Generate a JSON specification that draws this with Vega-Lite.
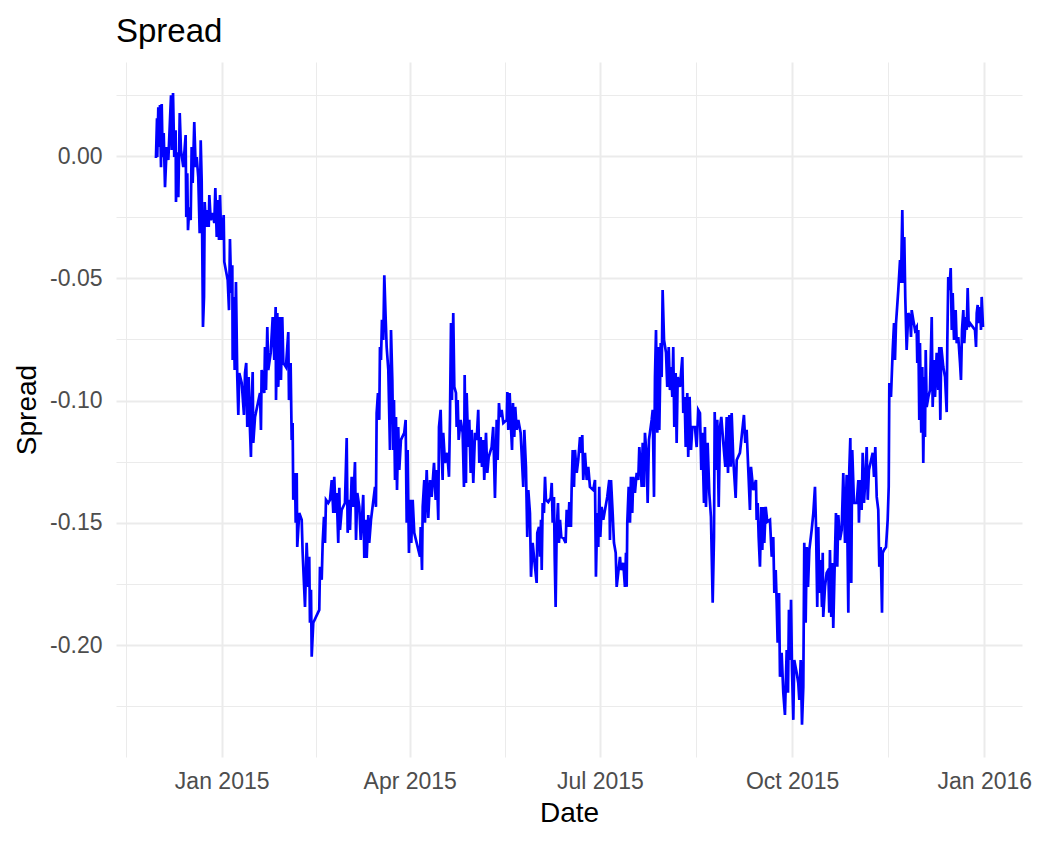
{
  "$schema": "https://vega.github.io/schema/vega-lite/v6.json",
  "width": 906,
  "height": 695,
  "autosize": {"type": "none"},
  "padding": {"left": 116, "top": 62, "right": 16, "bottom": 85},
  "background": "white",
  "title": {"text": "Spread", "anchor": "start", "frame": "group", "font": "Liberation Sans", "fontSize": 33, "fontWeight": "normal", "color": "black", "baseline": "alphabetic", "offset": -13},
  "config": {
    "view": {"stroke": null},
    "axis": {"labelFont": "Liberation Sans", "titleFont": "Liberation Sans", "labelFontSize": 23, "titleFontSize": 28, "labelColor": "#4D4D4D", "titleColor": "black", "titleFontWeight": "normal", "domain": false, "ticks": false, "tickSize": 0, "gridColor": "#EBEBEB", "labelOverlap": false, "labelFlush": false}
  },
  "data": {"values": [
{"date":"2014-11-30T13:00","spread":-0.0008},
{"date":"2014-12-01T01:00","spread":0.0155},
{"date":"2014-12-01T04:00","spread":-0.0004},
{"date":"2014-12-01T16:00","spread":0.0200},
{"date":"2014-12-02T00:00","spread":0.0037},
{"date":"2014-12-02T11:00","spread":0.0209},
{"date":"2014-12-02T23:00","spread":-0.0045},
{"date":"2014-12-03T07:00","spread":0.0213},
{"date":"2014-12-03T18:00","spread":-0.0004},
{"date":"2014-12-04T06:00","spread":0.0094},
{"date":"2014-12-04T21:00","spread":-0.0127},
{"date":"2014-12-05T16:00","spread":0.0037},
{"date":"2014-12-06T11:00","spread":-0.0016},
{"date":"2014-12-07T18:00","spread":0.0249},
{"date":"2014-12-08T02:00","spread":0.0025},
{"date":"2014-12-08T17:00","spread":0.0258},
{"date":"2014-12-09T07:00","spread":-0.0004},
{"date":"2014-12-09T23:00","spread":0.0106},
{"date":"2014-12-10T03:00","spread":-0.0188},
{"date":"2014-12-10T15:00","spread":0.0016},
{"date":"2014-12-11T06:00","spread":-0.0168},
{"date":"2014-12-11T22:00","spread":0.0176},
{"date":"2014-12-12T12:00","spread":0.0025},
{"date":"2014-12-13T15:00","spread":-0.0045},
{"date":"2014-12-14T18:00","spread":0.0086},
{"date":"2014-12-15T01:00","spread":-0.0249},
{"date":"2014-12-15T13:00","spread":-0.0070},
{"date":"2014-12-15T21:00","spread":-0.0303},
{"date":"2014-12-16T12:00","spread":-0.0209},
{"date":"2014-12-17T04:00","spread":-0.0262},
{"date":"2014-12-17T15:00","spread":0.0037},
{"date":"2014-12-18T03:00","spread":-0.0110},
{"date":"2014-12-18T21:00","spread":0.0139},
{"date":"2014-12-19T13:00","spread":-0.0045},
{"date":"2014-12-20T01:00","spread":-0.0004},
{"date":"2014-12-20T19:00","spread":-0.0086},
{"date":"2014-12-21T11:00","spread":-0.0315},
{"date":"2014-12-21T23:00","spread":0.0065},
{"date":"2014-12-22T10:00","spread":-0.0098},
{"date":"2014-12-23T01:00","spread":-0.0699},
{"date":"2014-12-23T13:00","spread":-0.0576},
{"date":"2014-12-23T21:00","spread":-0.0188},
{"date":"2014-12-24T12:00","spread":-0.0290},
{"date":"2014-12-25T03:00","spread":-0.0221},
{"date":"2014-12-25T19:00","spread":-0.0290},
{"date":"2014-12-26T02:00","spread":-0.0159},
{"date":"2014-12-26T18:00","spread":-0.0262},
{"date":"2014-12-27T17:00","spread":-0.0233},
{"date":"2014-12-28T11:00","spread":-0.0274},
{"date":"2014-12-28T23:00","spread":-0.0131},
{"date":"2014-12-29T15:00","spread":-0.0331},
{"date":"2014-12-30T06:00","spread":-0.0180},
{"date":"2014-12-30T17:00","spread":-0.0343},
{"date":"2014-12-31T05:00","spread":-0.0159},
{"date":"2014-12-31T19:00","spread":-0.0343},
{"date":"2015-01-01T23:00","spread":-0.0241},
{"date":"2015-01-02T06:00","spread":-0.0433},
{"date":"2015-01-03T21:00","spread":-0.0507},
{"date":"2015-01-04T12:00","spread":-0.0630},
{"date":"2015-01-04T23:00","spread":-0.0339},
{"date":"2015-01-05T14:00","spread":-0.0560},
{"date":"2015-01-06T02:00","spread":-0.0446},
{"date":"2015-01-06T06:00","spread":-0.0834},
{"date":"2015-01-06T18:00","spread":-0.0576},
{"date":"2015-01-07T05:00","spread":-0.0875},
{"date":"2015-01-07T20:00","spread":-0.0515},
{"date":"2015-01-08T11:00","spread":-0.0904},
{"date":"2015-01-08T23:00","spread":-0.1059},
{"date":"2015-01-09T10:00","spread":-0.0887},
{"date":"2015-01-10T14:00","spread":-0.0928},
{"date":"2015-01-11T16:00","spread":-0.1059},
{"date":"2015-01-12T04:00","spread":-0.0887},
{"date":"2015-01-12T18:00","spread":-0.0846},
{"date":"2015-01-13T06:00","spread":-0.1108},
{"date":"2015-01-13T22:00","spread":-0.0904},
{"date":"2015-01-14T13:00","spread":-0.1120},
{"date":"2015-01-15T00:00","spread":-0.1231},
{"date":"2015-01-15T09:00","spread":-0.1010},
{"date":"2015-01-15T20:00","spread":-0.0883},
{"date":"2015-01-16T03:00","spread":-0.1173},
{"date":"2015-01-16T23:00","spread":-0.1067},
{"date":"2015-01-19T08:00","spread":-0.0969},
{"date":"2015-01-19T19:00","spread":-0.1120},
{"date":"2015-01-20T03:00","spread":-0.0875},
{"date":"2015-01-20T22:00","spread":-0.0928},
{"date":"2015-01-21T09:00","spread":-0.0969},
{"date":"2015-01-21T17:00","spread":-0.0781},
{"date":"2015-01-22T05:00","spread":-0.0957},
{"date":"2015-01-22T20:00","spread":-0.0699},
{"date":"2015-01-23T07:00","spread":-0.0875},
{"date":"2015-01-24T11:00","spread":-0.0805},
{"date":"2015-01-25T10:00","spread":-0.0658},
{"date":"2015-01-26T04:00","spread":-0.0834},
{"date":"2015-01-26T20:00","spread":-0.0617},
{"date":"2015-01-27T00:00","spread":-0.0998},
{"date":"2015-01-27T15:00","spread":-0.0642},
{"date":"2015-01-28T02:00","spread":-0.0944},
{"date":"2015-01-28T22:00","spread":-0.0658},
{"date":"2015-01-29T09:00","spread":-0.0916},
{"date":"2015-01-30T00:00","spread":-0.0658},
{"date":"2015-01-30T12:00","spread":-0.0846},
{"date":"2015-01-31T18:00","spread":-0.0863},
{"date":"2015-02-01T21:00","spread":-0.0720},
{"date":"2015-02-02T05:00","spread":-0.0998},
{"date":"2015-02-03T00:00","spread":-0.0846},
{"date":"2015-02-03T12:00","spread":-0.1161},
{"date":"2015-02-03T23:00","spread":-0.1092},
{"date":"2015-02-04T06:00","spread":-0.1406},
{"date":"2015-02-05T02:00","spread":-0.1296},
{"date":"2015-02-05T10:00","spread":-0.1500},
{"date":"2015-02-05T22:00","spread":-0.1296},
{"date":"2015-02-06T04:00","spread":-0.1599},
{"date":"2015-02-07T03:00","spread":-0.1460},
{"date":"2015-02-08T07:00","spread":-0.1488},
{"date":"2015-02-08T18:00","spread":-0.1623},
{"date":"2015-02-09T21:00","spread":-0.1844},
{"date":"2015-02-10T16:00","spread":-0.1582},
{"date":"2015-02-11T11:00","spread":-0.1762},
{"date":"2015-02-11T22:00","spread":-0.1639},
{"date":"2015-02-12T06:00","spread":-0.1909},
{"date":"2015-02-12T18:00","spread":-0.1774},
{"date":"2015-02-13T02:00","spread":-0.2048},
{"date":"2015-02-13T20:00","spread":-0.1909},
{"date":"2015-02-16T17:00","spread":-0.1856},
{"date":"2015-02-17T01:00","spread":-0.1680},
{"date":"2015-02-17T21:00","spread":-0.1733},
{"date":"2015-02-18T08:00","spread":-0.1582},
{"date":"2015-02-18T23:00","spread":-0.1476},
{"date":"2015-02-19T11:00","spread":-0.1582},
{"date":"2015-02-19T22:00","spread":-0.1406},
{"date":"2015-02-21T00:00","spread":-0.1419},
{"date":"2015-02-21T20:00","spread":-0.1406},
{"date":"2015-02-22T16:00","spread":-0.1325},
{"date":"2015-02-23T10:00","spread":-0.1460},
{"date":"2015-02-23T21:00","spread":-0.1312},
{"date":"2015-02-24T13:00","spread":-0.1460},
{"date":"2015-02-25T01:00","spread":-0.1378},
{"date":"2015-02-25T19:00","spread":-0.1582},
{"date":"2015-02-26T07:00","spread":-0.1357},
{"date":"2015-02-26T15:00","spread":-0.1529},
{"date":"2015-02-27T10:00","spread":-0.1447},
{"date":"2015-03-01T00:00","spread":-0.1419},
{"date":"2015-03-01T20:00","spread":-0.1153},
{"date":"2015-03-02T07:00","spread":-0.1541},
{"date":"2015-03-02T22:00","spread":-0.1406},
{"date":"2015-03-03T10:00","spread":-0.1529},
{"date":"2015-03-04T05:00","spread":-0.1312},
{"date":"2015-03-04T23:00","spread":-0.1435},
{"date":"2015-03-05T19:00","spread":-0.1251},
{"date":"2015-03-06T07:00","spread":-0.1570},
{"date":"2015-03-06T22:00","spread":-0.1378},
{"date":"2015-03-07T21:00","spread":-0.1435},
{"date":"2015-03-08T13:00","spread":-0.1570},
{"date":"2015-03-09T07:00","spread":-0.1460},
{"date":"2015-03-09T18:00","spread":-0.1386},
{"date":"2015-03-10T06:00","spread":-0.1644},
{"date":"2015-03-11T01:00","spread":-0.1488},
{"date":"2015-03-11T10:00","spread":-0.1644},
{"date":"2015-03-12T04:00","spread":-0.1468},
{"date":"2015-03-12T15:00","spread":-0.1582},
{"date":"2015-03-13T11:00","spread":-0.1488},
{"date":"2015-03-15T09:00","spread":-0.1353},
{"date":"2015-03-15T20:00","spread":-0.1435},
{"date":"2015-03-16T04:00","spread":-0.1051},
{"date":"2015-03-16T19:00","spread":-0.0969},
{"date":"2015-03-17T10:00","spread":-0.1079},
{"date":"2015-03-17T18:00","spread":-0.0781},
{"date":"2015-03-18T06:00","spread":-0.0834},
{"date":"2015-03-18T17:00","spread":-0.0670},
{"date":"2015-03-19T08:00","spread":-0.0752},
{"date":"2015-03-19T20:00","spread":-0.0487},
{"date":"2015-03-20T12:00","spread":-0.0670},
{"date":"2015-03-20T23:00","spread":-0.0781},
{"date":"2015-03-21T18:00","spread":-0.0875},
{"date":"2015-03-22T13:00","spread":-0.1202},
{"date":"2015-03-23T01:00","spread":-0.0711},
{"date":"2015-03-23T16:00","spread":-0.0916},
{"date":"2015-03-24T03:00","spread":-0.1202},
{"date":"2015-03-24T11:00","spread":-0.0998},
{"date":"2015-03-24T23:00","spread":-0.1325},
{"date":"2015-03-25T10:00","spread":-0.1067},
{"date":"2015-03-25T22:00","spread":-0.1366},
{"date":"2015-03-26T12:00","spread":-0.1108},
{"date":"2015-03-27T00:00","spread":-0.1284},
{"date":"2015-03-27T19:00","spread":-0.1161},
{"date":"2015-03-29T09:00","spread":-0.1132},
{"date":"2015-03-30T01:00","spread":-0.1079},
{"date":"2015-03-30T13:00","spread":-0.1500},
{"date":"2015-03-31T00:00","spread":-0.1202},
{"date":"2015-03-31T15:00","spread":-0.1623},
{"date":"2015-04-01T03:00","spread":-0.1406},
{"date":"2015-04-01T18:00","spread":-0.1582},
{"date":"2015-04-02T10:00","spread":-0.1406},
{"date":"2015-04-03T04:00","spread":-0.1541},
{"date":"2015-04-05T22:00","spread":-0.1639},
{"date":"2015-04-06T06:00","spread":-0.1517},
{"date":"2015-04-06T21:00","spread":-0.1693},
{"date":"2015-04-07T05:00","spread":-0.1435},
{"date":"2015-04-07T23:00","spread":-0.1325},
{"date":"2015-04-08T07:00","spread":-0.1500},
{"date":"2015-04-09T03:00","spread":-0.1284},
{"date":"2015-04-09T21:00","spread":-0.1480},
{"date":"2015-04-10T17:00","spread":-0.1325},
{"date":"2015-04-11T12:00","spread":-0.1394},
{"date":"2015-04-12T15:00","spread":-0.1255},
{"date":"2015-04-13T10:00","spread":-0.1406},
{"date":"2015-04-13T22:00","spread":-0.1284},
{"date":"2015-04-14T16:00","spread":-0.1488},
{"date":"2015-04-15T00:00","spread":-0.1108},
{"date":"2015-04-15T19:00","spread":-0.1038},
{"date":"2015-04-16T07:00","spread":-0.1214},
{"date":"2015-04-16T18:00","spread":-0.1325},
{"date":"2015-04-17T01:00","spread":-0.1132},
{"date":"2015-04-17T21:00","spread":-0.1255},
{"date":"2015-04-18T23:00","spread":-0.1214},
{"date":"2015-04-19T19:00","spread":-0.1312},
{"date":"2015-04-20T06:00","spread":-0.1079},
{"date":"2015-04-20T18:00","spread":-0.0683},
{"date":"2015-04-21T05:00","spread":-0.0998},
{"date":"2015-04-21T20:00","spread":-0.0642},
{"date":"2015-04-22T08:00","spread":-0.0944},
{"date":"2015-04-23T03:00","spread":-0.0969},
{"date":"2015-04-23T11:00","spread":-0.1108},
{"date":"2015-04-23T23:00","spread":-0.0998},
{"date":"2015-04-24T10:00","spread":-0.1161},
{"date":"2015-04-25T09:00","spread":-0.1079},
{"date":"2015-04-26T08:00","spread":-0.1132},
{"date":"2015-04-26T23:00","spread":-0.1353},
{"date":"2015-04-27T07:00","spread":-0.0895},
{"date":"2015-04-27T22:00","spread":-0.1337},
{"date":"2015-04-28T06:00","spread":-0.0969},
{"date":"2015-04-29T00:00","spread":-0.1190},
{"date":"2015-04-29T12:00","spread":-0.1079},
{"date":"2015-04-30T04:00","spread":-0.1296},
{"date":"2015-04-30T16:00","spread":-0.1120},
{"date":"2015-05-01T10:00","spread":-0.1337},
{"date":"2015-05-02T06:00","spread":-0.1132},
{"date":"2015-05-03T01:00","spread":-0.1161},
{"date":"2015-05-03T19:00","spread":-0.1038},
{"date":"2015-05-04T07:00","spread":-0.1255},
{"date":"2015-05-04T23:00","spread":-0.1149},
{"date":"2015-05-05T14:00","spread":-0.1271},
{"date":"2015-05-06T05:00","spread":-0.1161},
{"date":"2015-05-06T16:00","spread":-0.1325},
{"date":"2015-05-07T12:00","spread":-0.1132},
{"date":"2015-05-08T03:00","spread":-0.1296},
{"date":"2015-05-08T19:00","spread":-0.1231},
{"date":"2015-05-10T05:00","spread":-0.1190},
{"date":"2015-05-10T23:00","spread":-0.1108},
{"date":"2015-05-11T19:00","spread":-0.1398},
{"date":"2015-05-12T15:00","spread":-0.1079},
{"date":"2015-05-13T02:00","spread":-0.1243},
{"date":"2015-05-13T17:00","spread":-0.1010},
{"date":"2015-05-14T05:00","spread":-0.1067},
{"date":"2015-05-15T00:00","spread":-0.1038},
{"date":"2015-05-15T19:00","spread":-0.1092},
{"date":"2015-05-17T10:00","spread":-0.1079},
{"date":"2015-05-17T17:00","spread":-0.0965},
{"date":"2015-05-18T04:00","spread":-0.1120},
{"date":"2015-05-18T20:00","spread":-0.0969},
{"date":"2015-05-19T11:00","spread":-0.1108},
{"date":"2015-05-19T23:00","spread":-0.1202},
{"date":"2015-05-20T10:00","spread":-0.1010},
{"date":"2015-05-21T01:00","spread":-0.1149},
{"date":"2015-05-21T12:00","spread":-0.1026},
{"date":"2015-05-22T05:00","spread":-0.1120},
{"date":"2015-05-22T23:00","spread":-0.1079},
{"date":"2015-05-24T02:00","spread":-0.1132},
{"date":"2015-05-25T08:00","spread":-0.1353},
{"date":"2015-05-25T20:00","spread":-0.1120},
{"date":"2015-05-26T15:00","spread":-0.1271},
{"date":"2015-05-27T06:00","spread":-0.1558},
{"date":"2015-05-27T18:00","spread":-0.1366},
{"date":"2015-05-28T13:00","spread":-0.1460},
{"date":"2015-05-29T01:00","spread":-0.1721},
{"date":"2015-05-29T20:00","spread":-0.1582},
{"date":"2015-05-30T23:00","spread":-0.1680},
{"date":"2015-05-31T18:00","spread":-0.1746},
{"date":"2015-06-01T01:00","spread":-0.1541},
{"date":"2015-06-01T21:00","spread":-0.1517},
{"date":"2015-06-02T08:00","spread":-0.1639},
{"date":"2015-06-02T20:00","spread":-0.1488},
{"date":"2015-06-03T04:00","spread":-0.1693},
{"date":"2015-06-03T15:00","spread":-0.1419},
{"date":"2015-06-04T06:00","spread":-0.1460},
{"date":"2015-06-04T18:00","spread":-0.1312},
{"date":"2015-06-05T05:00","spread":-0.1406},
{"date":"2015-06-06T07:00","spread":-0.1415},
{"date":"2015-06-07T11:00","spread":-0.1398},
{"date":"2015-06-07T23:00","spread":-0.1337},
{"date":"2015-06-08T10:00","spread":-0.1500},
{"date":"2015-06-09T01:00","spread":-0.1394},
{"date":"2015-06-09T09:00","spread":-0.1639},
{"date":"2015-06-09T20:00","spread":-0.1844},
{"date":"2015-06-10T08:00","spread":-0.1529},
{"date":"2015-06-10T23:00","spread":-0.1419},
{"date":"2015-06-11T10:00","spread":-0.1582},
{"date":"2015-06-11T22:00","spread":-0.1488},
{"date":"2015-06-12T13:00","spread":-0.1558},
{"date":"2015-06-13T12:00","spread":-0.1562},
{"date":"2015-06-14T15:00","spread":-0.1582},
{"date":"2015-06-15T03:00","spread":-0.1447},
{"date":"2015-06-15T21:00","spread":-0.1517},
{"date":"2015-06-16T09:00","spread":-0.1415},
{"date":"2015-06-17T04:00","spread":-0.1517},
{"date":"2015-06-17T12:00","spread":-0.1353},
{"date":"2015-06-18T00:00","spread":-0.1202},
{"date":"2015-06-18T15:00","spread":-0.1353},
{"date":"2015-06-19T02:00","spread":-0.1202},
{"date":"2015-06-19T22:00","spread":-0.1296},
{"date":"2015-06-20T16:00","spread":-0.1243},
{"date":"2015-06-21T12:00","spread":-0.1149},
{"date":"2015-06-21T23:00","spread":-0.1214},
{"date":"2015-06-22T14:00","spread":-0.1141},
{"date":"2015-06-23T01:00","spread":-0.1325},
{"date":"2015-06-23T21:00","spread":-0.1214},
{"date":"2015-06-24T17:00","spread":-0.1325},
{"date":"2015-06-25T11:00","spread":-0.1271},
{"date":"2015-06-26T06:00","spread":-0.1353},
{"date":"2015-06-27T20:00","spread":-0.1366},
{"date":"2015-06-28T16:00","spread":-0.1325},
{"date":"2015-06-29T03:00","spread":-0.1721},
{"date":"2015-06-29T18:00","spread":-0.1460},
{"date":"2015-06-30T06:00","spread":-0.1599},
{"date":"2015-06-30T17:00","spread":-0.1353},
{"date":"2015-07-01T05:00","spread":-0.1558},
{"date":"2015-07-01T21:00","spread":-0.1435},
{"date":"2015-07-02T15:00","spread":-0.1488},
{"date":"2015-07-04T13:00","spread":-0.1394},
{"date":"2015-07-05T12:00","spread":-0.1325},
{"date":"2015-07-05T20:00","spread":-0.1570},
{"date":"2015-07-06T08:00","spread":-0.1325},
{"date":"2015-07-07T03:00","spread":-0.1460},
{"date":"2015-07-07T18:00","spread":-0.1582},
{"date":"2015-07-08T14:00","spread":-0.1623},
{"date":"2015-07-09T01:00","spread":-0.1762},
{"date":"2015-07-09T19:00","spread":-0.1705},
{"date":"2015-07-10T15:00","spread":-0.1639},
{"date":"2015-07-11T03:00","spread":-0.1693},
{"date":"2015-07-12T05:00","spread":-0.1664},
{"date":"2015-07-13T00:00","spread":-0.1762},
{"date":"2015-07-13T12:00","spread":-0.1623},
{"date":"2015-07-13T20:00","spread":-0.1762},
{"date":"2015-07-14T03:00","spread":-0.1500},
{"date":"2015-07-14T19:00","spread":-0.1353},
{"date":"2015-07-15T10:00","spread":-0.1500},
{"date":"2015-07-15T21:00","spread":-0.1312},
{"date":"2015-07-16T12:00","spread":-0.1460},
{"date":"2015-07-17T00:00","spread":-0.1312},
{"date":"2015-07-17T19:00","spread":-0.1378},
{"date":"2015-07-18T15:00","spread":-0.1296},
{"date":"2015-07-19T09:00","spread":-0.1325},
{"date":"2015-07-19T21:00","spread":-0.1190},
{"date":"2015-07-20T13:00","spread":-0.1271},
{"date":"2015-07-21T00:00","spread":-0.1353},
{"date":"2015-07-21T12:00","spread":-0.1173},
{"date":"2015-07-22T03:00","spread":-0.1353},
{"date":"2015-07-22T14:00","spread":-0.1132},
{"date":"2015-07-23T10:00","spread":-0.1231},
{"date":"2015-07-23T21:00","spread":-0.1419},
{"date":"2015-07-24T12:00","spread":-0.1161},
{"date":"2015-07-25T19:00","spread":-0.1079},
{"date":"2015-07-26T07:00","spread":-0.1038},
{"date":"2015-07-26T22:00","spread":-0.1394},
{"date":"2015-07-27T09:00","spread":-0.0904},
{"date":"2015-07-27T21:00","spread":-0.0711},
{"date":"2015-07-28T12:00","spread":-0.1132},
{"date":"2015-07-28T23:00","spread":-0.0781},
{"date":"2015-07-29T11:00","spread":-0.1120},
{"date":"2015-07-30T03:00","spread":-0.0765},
{"date":"2015-07-30T14:00","spread":-0.0904},
{"date":"2015-07-31T01:00","spread":-0.0548},
{"date":"2015-07-31T17:00","spread":-0.0752},
{"date":"2015-08-01T16:00","spread":-0.0805},
{"date":"2015-08-02T06:00","spread":-0.0944},
{"date":"2015-08-02T23:00","spread":-0.0781},
{"date":"2015-08-03T13:00","spread":-0.0957},
{"date":"2015-08-04T01:00","spread":-0.0863},
{"date":"2015-08-04T16:00","spread":-0.0985},
{"date":"2015-08-05T03:00","spread":-0.0781},
{"date":"2015-08-05T15:00","spread":-0.1108},
{"date":"2015-08-06T07:00","spread":-0.0887},
{"date":"2015-08-06T18:00","spread":-0.1173},
{"date":"2015-08-07T06:00","spread":-0.0904},
{"date":"2015-08-08T08:00","spread":-0.0944},
{"date":"2015-08-09T11:00","spread":-0.0822},
{"date":"2015-08-09T22:00","spread":-0.1051},
{"date":"2015-08-10T14:00","spread":-0.0985},
{"date":"2015-08-11T02:00","spread":-0.1190},
{"date":"2015-08-11T20:00","spread":-0.0969},
{"date":"2015-08-12T07:00","spread":-0.1231},
{"date":"2015-08-12T23:00","spread":-0.0985},
{"date":"2015-08-13T15:00","spread":-0.1202},
{"date":"2015-08-14T06:00","spread":-0.1108},
{"date":"2015-08-15T12:00","spread":-0.1108},
{"date":"2015-08-16T08:00","spread":-0.1190},
{"date":"2015-08-17T02:00","spread":-0.1038},
{"date":"2015-08-17T22:00","spread":-0.1051},
{"date":"2015-08-18T13:00","spread":-0.1284},
{"date":"2015-08-19T00:00","spread":-0.1132},
{"date":"2015-08-19T20:00","spread":-0.1419},
{"date":"2015-08-20T07:00","spread":-0.1108},
{"date":"2015-08-20T19:00","spread":-0.1435},
{"date":"2015-08-21T14:00","spread":-0.1173},
{"date":"2015-08-22T09:00","spread":-0.1378},
{"date":"2015-08-23T04:00","spread":-0.1476},
{"date":"2015-08-24T00:00","spread":-0.1827},
{"date":"2015-08-24T15:00","spread":-0.1558},
{"date":"2015-08-24T23:00","spread":-0.1047},
{"date":"2015-08-25T14:00","spread":-0.1284},
{"date":"2015-08-26T05:00","spread":-0.1079},
{"date":"2015-08-26T21:00","spread":-0.1435},
{"date":"2015-08-27T12:00","spread":-0.1108},
{"date":"2015-08-28T03:00","spread":-0.1067},
{"date":"2015-08-29T02:00","spread":-0.1173},
{"date":"2015-08-30T01:00","spread":-0.1271},
{"date":"2015-08-30T17:00","spread":-0.1067},
{"date":"2015-08-31T08:00","spread":-0.1296},
{"date":"2015-08-31T23:00","spread":-0.1059},
{"date":"2015-09-01T15:00","spread":-0.1271},
{"date":"2015-09-02T02:00","spread":-0.1051},
{"date":"2015-09-02T21:00","spread":-0.1243},
{"date":"2015-09-04T00:00","spread":-0.1398},
{"date":"2015-09-04T12:00","spread":-0.1243},
{"date":"2015-09-06T01:00","spread":-0.1214},
{"date":"2015-09-07T23:00","spread":-0.1059},
{"date":"2015-09-08T14:00","spread":-0.1173},
{"date":"2015-09-09T06:00","spread":-0.1120},
{"date":"2015-09-10T01:00","spread":-0.1284},
{"date":"2015-09-10T20:00","spread":-0.1447},
{"date":"2015-09-11T08:00","spread":-0.1271},
{"date":"2015-09-12T10:00","spread":-0.1366},
{"date":"2015-09-13T17:00","spread":-0.1325},
{"date":"2015-09-14T01:00","spread":-0.1488},
{"date":"2015-09-14T13:00","spread":-0.1419},
{"date":"2015-09-15T00:00","spread":-0.1558},
{"date":"2015-09-15T15:00","spread":-0.1680},
{"date":"2015-09-16T06:00","spread":-0.1435},
{"date":"2015-09-16T18:00","spread":-0.1611},
{"date":"2015-09-17T05:00","spread":-0.1435},
{"date":"2015-09-17T17:00","spread":-0.1582},
{"date":"2015-09-18T09:00","spread":-0.1435},
{"date":"2015-09-19T03:00","spread":-0.1496},
{"date":"2015-09-20T10:00","spread":-0.1488},
{"date":"2015-09-21T06:00","spread":-0.1639},
{"date":"2015-09-22T00:00","spread":-0.1558},
{"date":"2015-09-22T12:00","spread":-0.1787},
{"date":"2015-09-23T04:00","spread":-0.1693},
{"date":"2015-09-23T15:00","spread":-0.1827},
{"date":"2015-09-24T02:00","spread":-0.1991},
{"date":"2015-09-24T18:00","spread":-0.1787},
{"date":"2015-09-25T05:00","spread":-0.2130},
{"date":"2015-09-26T00:00","spread":-0.2032},
{"date":"2015-09-26T19:00","spread":-0.2195},
{"date":"2015-09-27T14:00","spread":-0.2286},
{"date":"2015-09-28T10:00","spread":-0.2020},
{"date":"2015-09-29T01:00","spread":-0.2195},
{"date":"2015-09-29T12:00","spread":-0.1856},
{"date":"2015-09-30T00:00","spread":-0.2061},
{"date":"2015-09-30T12:00","spread":-0.1815},
{"date":"2015-09-30T23:00","spread":-0.2101},
{"date":"2015-10-01T14:00","spread":-0.2306},
{"date":"2015-10-02T01:00","spread":-0.2061},
{"date":"2015-10-03T05:00","spread":-0.2114},
{"date":"2015-10-03T23:00","spread":-0.2155},
{"date":"2015-10-04T11:00","spread":-0.2224},
{"date":"2015-10-05T03:00","spread":-0.2061},
{"date":"2015-10-05T18:00","spread":-0.2326},
{"date":"2015-10-06T09:00","spread":-0.2171},
{"date":"2015-10-06T20:00","spread":-0.1582},
{"date":"2015-10-07T12:00","spread":-0.1909},
{"date":"2015-10-08T00:00","spread":-0.1599},
{"date":"2015-10-08T15:00","spread":-0.1762},
{"date":"2015-10-09T06:00","spread":-0.1611},
{"date":"2015-10-10T09:00","spread":-0.1529},
{"date":"2015-10-11T04:00","spread":-0.1460},
{"date":"2015-10-11T23:00","spread":-0.1353},
{"date":"2015-10-12T11:00","spread":-0.1517},
{"date":"2015-10-13T01:00","spread":-0.1844},
{"date":"2015-10-13T13:00","spread":-0.1517},
{"date":"2015-10-14T00:00","spread":-0.1787},
{"date":"2015-10-14T17:00","spread":-0.1652},
{"date":"2015-10-15T07:00","spread":-0.1844},
{"date":"2015-10-15T16:00","spread":-0.1623},
{"date":"2015-10-15T22:00","spread":-0.1885},
{"date":"2015-10-16T18:00","spread":-0.1762},
{"date":"2015-10-17T13:00","spread":-0.1705},
{"date":"2015-10-18T08:00","spread":-0.1693},
{"date":"2015-10-18T19:00","spread":-0.1868},
{"date":"2015-10-19T03:00","spread":-0.1611},
{"date":"2015-10-19T18:00","spread":-0.1885},
{"date":"2015-10-20T06:00","spread":-0.1664},
{"date":"2015-10-20T17:00","spread":-0.1930},
{"date":"2015-10-21T09:00","spread":-0.1680},
{"date":"2015-10-22T00:00","spread":-0.1460},
{"date":"2015-10-22T15:00","spread":-0.1680},
{"date":"2015-10-23T03:00","spread":-0.1468},
{"date":"2015-10-23T22:00","spread":-0.1570},
{"date":"2015-10-24T18:00","spread":-0.1529},
{"date":"2015-10-25T12:00","spread":-0.1296},
{"date":"2015-10-26T08:00","spread":-0.1582},
{"date":"2015-10-27T03:00","spread":-0.1304},
{"date":"2015-10-27T22:00","spread":-0.1868},
{"date":"2015-10-28T09:00","spread":-0.1284},
{"date":"2015-10-28T21:00","spread":-0.1153},
{"date":"2015-10-29T08:00","spread":-0.1746},
{"date":"2015-10-29T19:00","spread":-0.1202},
{"date":"2015-10-30T15:00","spread":-0.1419},
{"date":"2015-10-31T22:00","spread":-0.1419},
{"date":"2015-11-01T17:00","spread":-0.1325},
{"date":"2015-11-02T00:00","spread":-0.1500},
{"date":"2015-11-02T12:00","spread":-0.1325},
{"date":"2015-11-03T07:00","spread":-0.1447},
{"date":"2015-11-03T19:00","spread":-0.1214},
{"date":"2015-11-04T10:00","spread":-0.1419},
{"date":"2015-11-05T01:00","spread":-0.1325},
{"date":"2015-11-05T17:00","spread":-0.1190},
{"date":"2015-11-06T05:00","spread":-0.1406},
{"date":"2015-11-06T19:00","spread":-0.1284},
{"date":"2015-11-08T14:00","spread":-0.1214},
{"date":"2015-11-09T05:00","spread":-0.1312},
{"date":"2015-11-09T20:00","spread":-0.1190},
{"date":"2015-11-10T12:00","spread":-0.1394},
{"date":"2015-11-11T06:00","spread":-0.1447},
{"date":"2015-11-11T18:00","spread":-0.1680},
{"date":"2015-11-12T10:00","spread":-0.1599},
{"date":"2015-11-13T01:00","spread":-0.1868},
{"date":"2015-11-13T09:00","spread":-0.1623},
{"date":"2015-11-14T00:00","spread":-0.1611},
{"date":"2015-11-14T23:00","spread":-0.1599},
{"date":"2015-11-15T18:00","spread":-0.1488},
{"date":"2015-11-16T06:00","spread":-0.1353},
{"date":"2015-11-16T13:00","spread":-0.0928},
{"date":"2015-11-17T08:00","spread":-0.0985},
{"date":"2015-11-18T04:00","spread":-0.0793},
{"date":"2015-11-18T19:00","spread":-0.0683},
{"date":"2015-11-19T06:00","spread":-0.0834},
{"date":"2015-11-19T18:00","spread":-0.0683},
{"date":"2015-11-20T20:00","spread":-0.0548},
{"date":"2015-11-21T16:00","spread":-0.0425},
{"date":"2015-11-22T03:00","spread":-0.0519},
{"date":"2015-11-22T18:00","spread":-0.0221},
{"date":"2015-11-23T06:00","spread":-0.0519},
{"date":"2015-11-23T17:00","spread":-0.0331},
{"date":"2015-11-24T04:00","spread":-0.0576},
{"date":"2015-11-24T20:00","spread":-0.0793},
{"date":"2015-11-25T15:00","spread":-0.0642},
{"date":"2015-11-26T10:00","spread":-0.0658},
{"date":"2015-11-26T22:00","spread":-0.0740},
{"date":"2015-11-27T06:00","spread":-0.0630},
{"date":"2015-11-28T00:00","spread":-0.0670},
{"date":"2015-11-28T20:00","spread":-0.0711},
{"date":"2015-11-29T15:00","spread":-0.0699},
{"date":"2015-11-29T22:00","spread":-0.0846},
{"date":"2015-11-30T10:00","spread":-0.0711},
{"date":"2015-11-30T21:00","spread":-0.1079},
{"date":"2015-12-01T05:00","spread":-0.0765},
{"date":"2015-12-01T20:00","spread":-0.1132},
{"date":"2015-12-02T08:00","spread":-0.0863},
{"date":"2015-12-02T19:00","spread":-0.1255},
{"date":"2015-12-03T07:00","spread":-0.0904},
{"date":"2015-12-03T15:00","spread":-0.1149},
{"date":"2015-12-03T23:00","spread":-0.0793},
{"date":"2015-12-04T10:00","spread":-0.1026},
{"date":"2015-12-05T05:00","spread":-0.0985},
{"date":"2015-12-06T00:00","spread":-0.0957},
{"date":"2015-12-06T20:00","spread":-0.0658},
{"date":"2015-12-07T07:00","spread":-0.1026},
{"date":"2015-12-07T22:00","spread":-0.0834},
{"date":"2015-12-08T10:00","spread":-0.0985},
{"date":"2015-12-09T05:00","spread":-0.0805},
{"date":"2015-12-09T23:00","spread":-0.0957},
{"date":"2015-12-10T11:00","spread":-0.0781},
{"date":"2015-12-10T23:00","spread":-0.1079},
{"date":"2015-12-11T10:00","spread":-0.0781},
{"date":"2015-12-12T09:00","spread":-0.0863},
{"date":"2015-12-13T05:00","spread":-0.0904},
{"date":"2015-12-14T00:00","spread":-0.1047},
{"date":"2015-12-14T07:00","spread":-0.0765},
{"date":"2015-12-14T18:00","spread":-0.0495},
{"date":"2015-12-15T06:00","spread":-0.0548},
{"date":"2015-12-15T22:00","spread":-0.0458},
{"date":"2015-12-16T10:00","spread":-0.0711},
{"date":"2015-12-16T21:00","spread":-0.0560},
{"date":"2015-12-17T12:00","spread":-0.0752},
{"date":"2015-12-18T07:00","spread":-0.0630},
{"date":"2015-12-18T19:00","spread":-0.0765},
{"date":"2015-12-19T13:00","spread":-0.0740},
{"date":"2015-12-20T09:00","spread":-0.0846},
{"date":"2015-12-20T20:00","spread":-0.0916},
{"date":"2015-12-21T08:00","spread":-0.0711},
{"date":"2015-12-21T23:00","spread":-0.0630},
{"date":"2015-12-22T10:00","spread":-0.0765},
{"date":"2015-12-23T02:00","spread":-0.0658},
{"date":"2015-12-23T14:00","spread":-0.0711},
{"date":"2015-12-24T01:00","spread":-0.0540},
{"date":"2015-12-24T13:00","spread":-0.0699},
{"date":"2015-12-25T04:00","spread":-0.0683},
{"date":"2015-12-27T13:00","spread":-0.0711},
{"date":"2015-12-28T01:00","spread":-0.0781},
{"date":"2015-12-28T09:00","spread":-0.0642},
{"date":"2015-12-28T20:00","spread":-0.0609},
{"date":"2015-12-29T08:00","spread":-0.0683},
{"date":"2015-12-29T23:00","spread":-0.0617},
{"date":"2015-12-30T10:00","spread":-0.0711},
{"date":"2015-12-30T18:00","spread":-0.0576},
{"date":"2015-12-31T09:00","spread":-0.0699}
  ]},
  "mark": {"type": "line", "color": "#0000FF", "strokeWidth": 2.7, "clip": true},
  "encoding": {
    "x": {
      "field": "date", "type": "temporal", "title": "Date",
      "scale": {"domain": [{"year": 2014, "month": 11, "date": 11, "hours": 10}, {"year": 2016, "month": 1, "date": 19, "hours": 1}]},
      "axis": {
        "values": [
          {"year": 2014, "month": 11, "date": 16},
          {"year": 2015, "month": 1, "date": 1},
          {"year": 2015, "month": 2, "date": 15},
          {"year": 2015, "month": 4, "date": 1},
          {"year": 2015, "month": 5, "date": 16, "hours": 12},
          {"year": 2015, "month": 7, "date": 1},
          {"year": 2015, "month": 8, "date": 16},
          {"year": 2015, "month": 10, "date": 1},
          {"year": 2015, "month": 11, "date": 16},
          {"year": 2016, "month": 1, "date": 1}
        ],
        "labelExpr": "date(datum.value) == 1 ? timeFormat(datum.value, '%b %Y') : ''",
        "gridWidth": {"condition": {"test": "date(datum.value) != 1", "value": 1}, "value": 2},
        "labelPadding": 13,
        "titlePadding": 6
      }
    },
    "y": {
      "field": "spread", "type": "quantitative", "title": "Spread",
      "scale": {"domain": [-0.2458, 0.0385], "nice": false, "zero": false},
      "axis": {
        "values": [0.025, 0, -0.025, -0.05, -0.075, -0.1, -0.125, -0.15, -0.175, -0.2, -0.225],
        "labelExpr": "abs(datum.value * 20 - round(datum.value * 20)) > 0.1 ? '' : replace(format(datum.value, '.2f'), '\u2212', '-')",
        "gridWidth": {"condition": {"test": "abs(datum.value * 20 - round(datum.value * 20)) > 0.1", "value": 1}, "value": 2},
        "labelPadding": 14,
        "titlePadding": 8
      }
    }
  }
}
